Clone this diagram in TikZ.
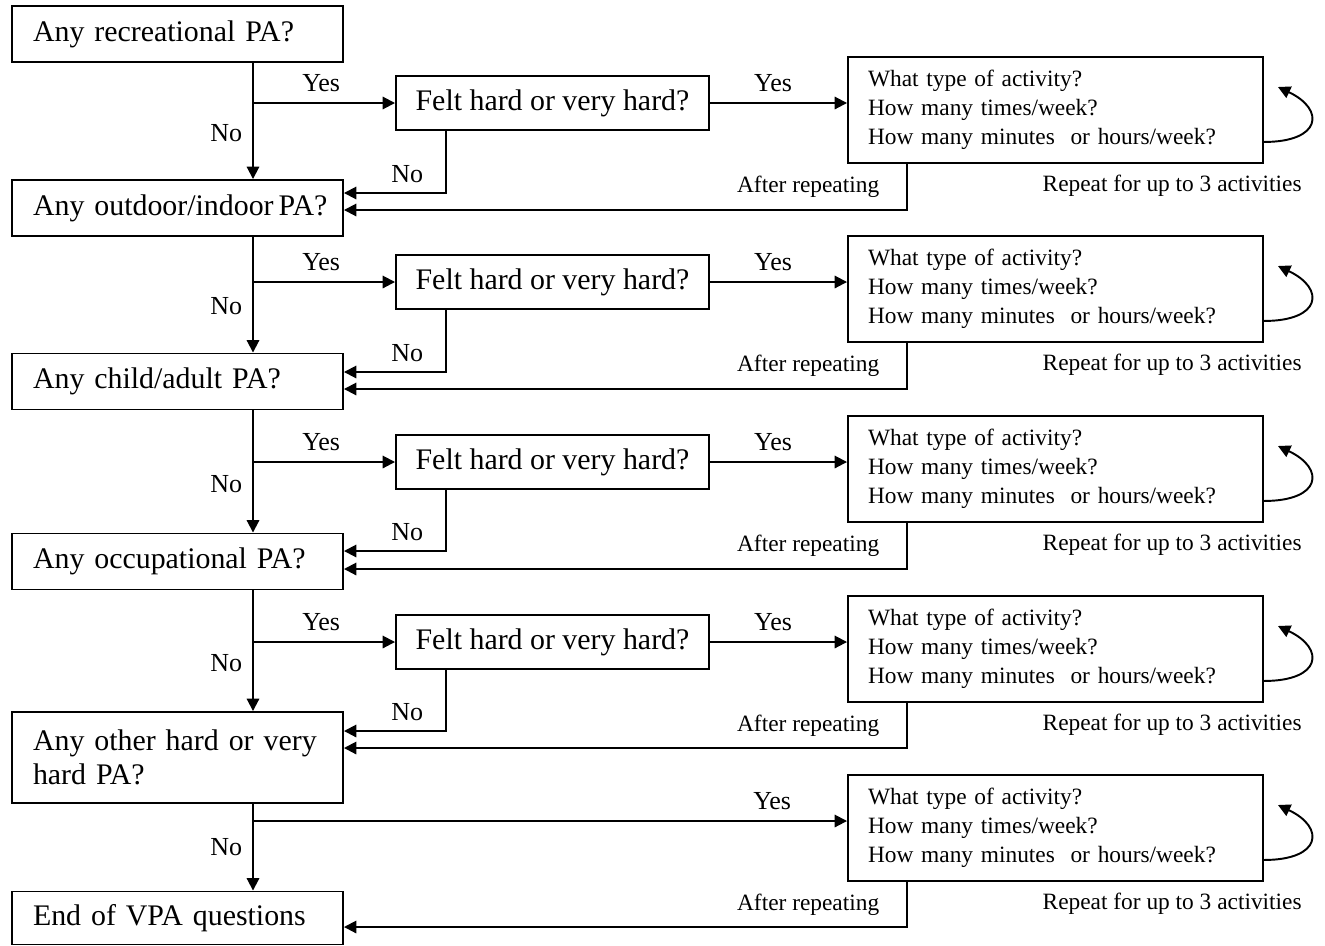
\documentclass[tikz,border=0pt]{standalone}
\usepackage{fontspec}
\setmainfont{Liberation Serif}
\usetikzlibrary{arrows.meta}

\tikzset{
  qbox/.style={draw, line width=1.1pt, text width=5.78cm, inner xsep=0.42cm, inner ysep=0pt, minimum height=1.12cm, align=left, font=\fontsize{17pt}{19.5pt}\selectfont},
  feltbox/.style={draw, line width=1.1pt, minimum width=6.26cm, minimum height=1.08cm, inner sep=0pt, font=\fontsize{17pt}{19.5pt}\selectfont},
  actbox/.style={draw, line width=1.1pt, text width=7.5cm, inner xsep=0.4cm, inner ysep=0pt, minimum height=2.12cm, align=left, font=\fontsize{13.3pt}{16.5pt}\selectfont},
  arr/.style={line width=1.1pt, -{Triangle[length=7pt,width=7pt]}},
  lbl/.style={font=\fontsize{14.8pt}{17pt}\selectfont},
  note/.style={font=\fontsize{13.3pt}{16pt}\selectfont}
}

\begin{document}
\begin{tikzpicture}
        \useasboundingbox (0,0) rectangle (26.5,-18.9);

        % questions
        \node[qbox] (q1) at (3.55,-0.68) {Any recreational PA?};
        \node[qbox] (q2) at (3.55,-4.16) {\mbox{Any outdoor/indoor\,PA?}};
        \node[qbox] (q3) at (3.55,-7.63) {Any child/adult PA?};
        \node[qbox] (q4) at (3.55,-11.23) {Any occupational PA?};
        \node[qbox, minimum height=1.82cm] (q5) at (3.55,-15.15) {Any other hard or very\\hard PA?};
        \node[qbox, minimum height=1.06cm] (q6) at (3.55,-18.36) {End of VPA questions};

        % branch points on the trunk
        \coordinate (t1) at (5.06,-2.06);
        \coordinate (t2) at (5.06,-5.64);
        \coordinate (t3) at (5.06,-9.24);
        \coordinate (t4) at (5.06,-12.84);
        \coordinate (t5) at (5.06,-16.42);

        % felt hard
        \node[feltbox] (felt1) at (11.05,-2.06) {Felt hard or very hard?};
        \node[feltbox] (felt2) at (11.05,-5.64) {Felt hard or very hard?};
        \node[feltbox] (felt3) at (11.05,-9.24) {Felt hard or very hard?};
        \node[feltbox] (felt4) at (11.05,-12.84) {Felt hard or very hard?};

        % activity details
        \node[actbox] (act1) at (21.11,-2.2) {What type of activity?\\How many times/week?\\How many minutes \ or hours/week?};
        \node[actbox] (act2) at (21.11,-5.78) {What type of activity?\\How many times/week?\\How many minutes \ or hours/week?};
        \node[actbox] (act3) at (21.11,-9.38) {What type of activity?\\How many times/week?\\How many minutes \ or hours/week?};
        \node[actbox] (act4) at (21.11,-12.98) {What type of activity?\\How many times/week?\\How many minutes \ or hours/week?};
        \node[actbox] (act5) at (21.11,-16.56) {What type of activity?\\How many times/week?\\How many minutes \ or hours/week?};

        % trunk
        \draw[arr] (q1.south -| t1) -- (q2.north -| t1) node[lbl, pos=0.6, left=0.08cm] (no1) {No};
        \draw[arr] (q2.south -| t2) -- (q3.north -| t2) node[lbl, pos=0.6, left=0.08cm] (no2) {No};
        \draw[arr] (q3.south -| t3) -- (q4.north -| t3) node[lbl, pos=0.6, left=0.08cm] (no3) {No};
        \draw[arr] (q4.south -| t4) -- (q5.north -| t4) node[lbl, pos=0.6, left=0.08cm] (no4) {No};
        \draw[arr] (q5.south -| t5) -- (q6.north -| t5) node[lbl, pos=0.5, left=0.08cm] (no5) {No};

        % yes branches
        \draw[arr] (t1) -- (felt1.west) node[lbl, pos=0.48, above=0.08cm] (yes1) {Yes};
        \draw[arr] (t2) -- (felt2.west) node[lbl, pos=0.48, above=0.08cm] (yes2) {Yes};
        \draw[arr] (t3) -- (felt3.west) node[lbl, pos=0.48, above=0.08cm] (yes3) {Yes};
        \draw[arr] (t4) -- (felt4.west) node[lbl, pos=0.48, above=0.08cm] (yes4) {Yes};
        \draw[arr] (felt1.east) -- (felt1.east -| act1.west) node[lbl, pos=0.46, above=0.08cm] (hard1) {Yes};
        \draw[arr] (felt2.east) -- (felt2.east -| act2.west) node[lbl, pos=0.46, above=0.08cm] (hard2) {Yes};
        \draw[arr] (felt3.east) -- (felt3.east -| act3.west) node[lbl, pos=0.46, above=0.08cm] (hard3) {Yes};
        \draw[arr] (felt4.east) -- (felt4.east -| act4.west) node[lbl, pos=0.46, above=0.08cm] (hard4) {Yes};
        \draw[arr] (t5) -- (t5 -| act5.west) node[lbl, pos=0.874, above=0.08cm] (yes5) {Yes};

        % not hard, back to next question
        \draw[arr] ([xshift=1.02cm]felt1.south west) |- (q2.east |- 0,-3.86) node[lbl, pos=0.69, above=0.06cm] (soft1) {No};
        \draw[arr] ([xshift=1.02cm]felt2.south west) |- (q3.east |- 0,-7.44) node[lbl, pos=0.69, above=0.06cm] (soft2) {No};
        \draw[arr] ([xshift=1.02cm]felt3.south west) |- (q4.east |- 0,-11.02) node[lbl, pos=0.69, above=0.06cm] (soft3) {No};
        \draw[arr] ([xshift=1.02cm]felt4.south west) |- (q5.east |- 0,-14.62) node[lbl, pos=0.69, above=0.06cm] (soft4) {No};

        % after repeating
        \draw[arr] ([xshift=1.2cm]act1.south west) |- (q2.east |- 0,-4.2) node[note, pos=0.25, left=0.42cm] (aft1) {After repeating};
        \draw[arr] ([xshift=1.2cm]act2.south west) |- (q3.east |- 0,-7.78) node[note, pos=0.25, left=0.42cm] (aft2) {After repeating};
        \draw[arr] ([xshift=1.2cm]act3.south west) |- (q4.east |- 0,-11.38) node[note, pos=0.25, left=0.42cm] (aft3) {After repeating};
        \draw[arr] ([xshift=1.2cm]act4.south west) |- (q5.east |- 0,-14.96) node[note, pos=0.25, left=0.42cm] (aft4) {After repeating};
        \draw[arr] ([xshift=1.2cm]act5.south west) |- (q6.east |- 0,-18.54) node[note, pos=0.25, left=0.42cm] (aft5) {After repeating};

        % repeat loops
        \draw[arr] ([yshift=0.44cm]act1.south east) .. controls +(1.15,0) and +(0.95,-0.45) .. ([xshift=0.28cm,yshift=0.46cm]act1.east);
        \draw[arr] ([yshift=0.44cm]act2.south east) .. controls +(1.15,0) and +(0.95,-0.45) .. ([xshift=0.28cm,yshift=0.46cm]act2.east);
        \draw[arr] ([yshift=0.44cm]act3.south east) .. controls +(1.15,0) and +(0.95,-0.45) .. ([xshift=0.28cm,yshift=0.46cm]act3.east);
        \draw[arr] ([yshift=0.44cm]act4.south east) .. controls +(1.15,0) and +(0.95,-0.45) .. ([xshift=0.28cm,yshift=0.46cm]act4.east);
        \draw[arr] ([yshift=0.44cm]act5.south east) .. controls +(1.15,0) and +(0.95,-0.45) .. ([xshift=0.28cm,yshift=0.46cm]act5.east);
        \node[note, anchor=base east, inner sep=0pt] (rep1) at ([xshift=0.76cm,yshift=-0.56cm]act1.south east) {Repeat for up to 3 activities};
        \node[note, anchor=base east, inner sep=0pt] (rep2) at ([xshift=0.76cm,yshift=-0.56cm]act2.south east) {Repeat for up to 3 activities};
        \node[note, anchor=base east, inner sep=0pt] (rep3) at ([xshift=0.76cm,yshift=-0.56cm]act3.south east) {Repeat for up to 3 activities};
        \node[note, anchor=base east, inner sep=0pt] (rep4) at ([xshift=0.76cm,yshift=-0.56cm]act4.south east) {Repeat for up to 3 activities};
        \node[note, anchor=base east, inner sep=0pt] (rep5) at ([xshift=0.76cm,yshift=-0.56cm]act5.south east) {Repeat for up to 3 activities};
\end{tikzpicture}
\end{document}
